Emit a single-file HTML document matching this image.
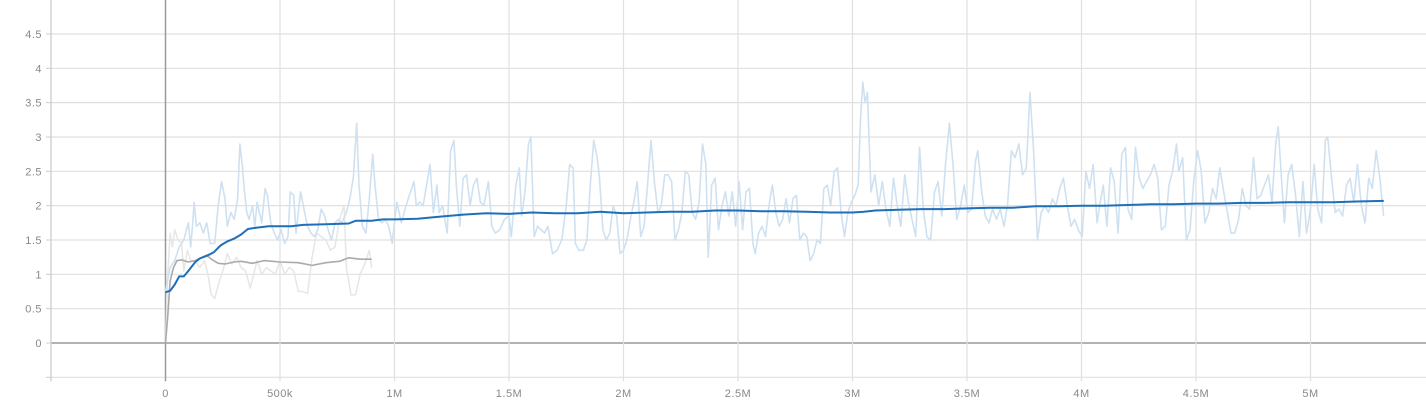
<!DOCTYPE html>
<html><head><meta charset="utf-8">
<style>
html,body{margin:0;padding:0;background:#fff;}
svg{display:block;font-family:"Liberation Sans",sans-serif;}
</style></head>
<body>
<svg id="chart" width="1426" height="400" viewBox="0 0 1426 400" xmlns="http://www.w3.org/2000/svg">
<g id="grid"></g>
<g id="axes"></g>
<g id="series"></g>
</svg>
<script>
const xTicks=[-500,0,500,1000,1500,2000,2500,3000,3500,4000,4500,5000];
const xTickLabels=["","0","500k","1M","1.5M","2M","2.5M","3M","3.5M","4M","4.5M","5M"];
const yTicks=[-0.5,0,0.5,1,1.5,2,2.5,3,3.5,4,4.5];
const yTickLabels=["","0","0.5","1","1.5","2","2.5","3","3.5","4","4.5"];

const rawSteps=[0,20,40,60,80,100,110,120,125,135,150,165,180,195,215,230,245,260,270,285,300,315,325,335,345,355,365,380,390,400,420,435,445,460,475,490,505,520,535,545,560,570,590,605,620,635,650,665,680,695,710,725,740,755,770,790,805,820,835,845,860,875,890,905,915,930,945,960,975,990,1010,1030,1050,1070,1085,1095,1110,1125,1140,1155,1170,1185,1195,1210,1230,1245,1260,1270,1285,1300,1315,1330,1345,1360,1375,1390,1410,1425,1440,1460,1480,1500,1510,1530,1545,1555,1570,1585,1595,1610,1625,1640,1655,1670,1690,1710,1730,1750,1765,1780,1790,1805,1825,1840,1855,1870,1885,1895,1910,1925,1940,1955,1970,1985,2000,2015,2030,2045,2060,2075,2090,2105,2120,2135,2150,2165,2180,2195,2210,2225,2240,2255,2270,2285,2300,2315,2330,2345,2360,2370,2385,2400,2415,2430,2445,2460,2475,2490,2505,2520,2535,2550,2565,2575,2590,2605,2620,2635,2650,2665,2680,2695,2710,2725,2740,2755,2770,2785,2800,2815,2830,2845,2860,2875,2890,2905,2920,2935,2950,2965,2980,2995,3010,3025,3035,3045,3055,3065,3081,3098,3114,3130,3146,3163,3179,3195,3211,3228,3244,3260,3276,3293,3309,3325,3341,3358,3374,3390,3406,3423,3439,3455,3472,3488,3504,3520,3537,3547,3564,3580,3596,3612,3629,3645,3661,3677,3694,3710,3726,3743,3759,3775,3791,3808,3824,3840,3856,3873,3889,3905,3921,3938,3954,3970,3986,4003,4019,4035,4051,4068,4079,4095,4111,4127,4143,4160,4176,4192,4203,4219,4236,4252,4268,4284,4301,4317,4333,4349,4366,4382,4398,4415,4425,4442,4458,4474,4490,4507,4523,4539,4556,4572,4588,4604,4621,4637,4653,4669,4686,4702,4718,4734,4751,4767,4783,4799,4816,4832,4848,4859,4875,4886,4902,4918,4935,4951,4967,4983,5000,5016,5032,5048,5065,5075,5092,5108,5124,5140,5157,5173,5189,5205,5222,5238,5254,5270,5287,5303,5319];
const rawValues=[0.75,1.1,1.2,1.4,1.5,1.75,1.4,1.8,2.05,1.7,1.75,1.6,1.75,1.45,1.45,2.0,2.35,2.1,1.7,1.9,1.8,2.1,2.9,2.6,2.2,1.9,1.8,2.0,1.7,2.05,1.75,2.25,2.15,1.75,1.6,1.5,1.65,1.45,1.55,2.2,2.15,1.6,2.2,1.95,1.7,1.6,1.55,1.65,1.95,1.85,1.65,1.5,1.75,1.8,1.75,1.9,2.1,2.4,3.2,2.3,1.7,1.6,2.1,2.75,2.3,1.8,1.75,1.8,1.7,1.45,2.05,1.75,2.0,2.2,2.35,2.0,2.05,2.0,2.3,2.6,1.9,2.3,1.9,2.0,1.6,2.8,2.95,2.3,1.7,2.4,2.45,2.0,2.3,2.4,2.05,2.0,2.35,1.7,1.6,1.65,1.8,1.85,1.55,2.3,2.55,1.85,2.2,2.9,3.0,1.55,1.7,1.65,1.6,1.7,1.3,1.35,1.5,2.0,2.6,2.55,1.45,1.35,1.35,1.5,2.3,2.95,2.7,2.4,1.65,1.5,1.6,2.0,1.85,1.3,1.35,1.5,1.8,2.05,2.35,1.55,1.7,2.3,2.95,2.35,1.9,2.0,2.45,2.45,2.35,1.5,1.65,1.9,2.5,2.45,1.9,1.8,2.05,2.9,2.6,1.25,2.3,2.4,1.65,2.0,2.2,1.85,2.2,1.7,2.35,1.65,2.2,2.25,1.45,1.3,1.6,1.7,1.55,2.0,2.3,1.9,1.7,1.8,2.1,1.75,2.1,2.15,1.5,1.6,1.55,1.2,1.3,1.5,1.45,2.25,2.3,2.0,2.5,2.55,1.9,1.55,1.9,2.05,2.15,2.3,3.25,3.8,3.5,3.65,2.2,2.45,2.0,2.35,1.95,1.7,2.4,2.0,1.7,2.45,2.05,1.8,1.55,2.85,1.95,1.55,1.5,2.2,2.35,1.85,2.6,3.2,2.6,1.8,2.0,2.3,1.9,1.95,2.65,2.8,2.2,1.85,1.75,1.95,1.8,1.95,1.7,2.0,2.8,2.7,2.9,2.45,2.55,3.65,2.8,1.5,1.9,2.0,1.9,2.1,2.0,2.25,2.4,2.0,1.7,1.8,1.65,1.55,2.5,2.25,2.6,1.75,2.0,2.3,1.7,2.55,2.35,1.6,2.75,2.85,1.95,1.8,2.85,2.4,2.25,2.35,2.45,2.6,2.4,1.65,1.7,2.3,2.5,2.9,2.5,2.7,1.5,1.65,2.35,2.8,2.5,1.75,1.9,2.25,2.1,2.55,2.2,1.9,1.6,1.6,1.8,2.25,2.0,1.95,2.7,2.1,2.15,2.3,2.45,2.05,2.9,3.15,2.3,1.75,2.45,2.6,2.15,1.55,2.35,1.6,1.95,2.6,1.95,1.75,2.95,3.0,2.4,1.9,1.95,1.85,2.3,2.4,2.05,2.6,2.0,1.75,2.4,2.25,2.8,2.4,1.85];

const smoothSteps=[0,20,40,60,80,100,130,150,180,210,240,270,300,330,360,400,450,500,550,600,700,800,830,900,950,1000,1100,1200,1300,1400,1500,1600,1700,1800,1900,2000,2100,2200,2300,2400,2500,2600,2700,2800,2900,3000,3050,3100,3200,3300,3400,3500,3600,3700,3800,3900,4000,4100,4200,4300,4400,4500,4600,4700,4800,4900,5000,5100,5200,5320];
const smoothValues=[0.74,0.76,0.85,0.97,0.97,1.05,1.18,1.23,1.27,1.32,1.42,1.48,1.52,1.58,1.66,1.68,1.70,1.70,1.70,1.72,1.73,1.74,1.78,1.78,1.80,1.80,1.81,1.84,1.87,1.89,1.88,1.90,1.89,1.89,1.91,1.89,1.90,1.91,1.91,1.93,1.93,1.92,1.92,1.91,1.90,1.90,1.91,1.93,1.94,1.95,1.95,1.96,1.97,1.97,1.99,1.99,2.00,2.00,2.01,2.02,2.02,2.03,2.03,2.04,2.04,2.05,2.05,2.05,2.06,2.07];

const greyRawSteps=[0,10,20,30,40,55,70,80,95,110,130,150,170,185,200,215,235,250,270,290,310,330,350,370,385,400,420,440,460,480,500,520,540,560,580,600,620,640,660,680,700,720,740,760,780,790,810,830,850,870,890,900];
const greyRawValues=[0,1.0,1.6,1.4,1.65,1.5,1.45,1.05,1.35,1.2,1.2,1.1,1.2,1.0,0.7,0.65,0.9,1.05,1.3,1.15,1.25,1.1,1.05,0.8,1.0,1.2,1.0,1.1,1.05,1.0,1.2,1.0,1.1,1.05,0.75,0.75,0.72,1.25,1.6,1.55,1.5,1.35,1.4,1.8,2.0,1.1,0.7,0.7,1.0,1.15,1.35,1.1];
const greySmoothSteps=[0,10,20,35,50,70,100,130,160,180,200,230,260,300,330,380,430,500,580,640,700,760,800,850,900];
const greySmoothValues=[0,0.4,0.9,1.1,1.2,1.21,1.18,1.2,1.25,1.28,1.22,1.16,1.15,1.18,1.19,1.16,1.2,1.18,1.17,1.13,1.17,1.19,1.24,1.22,1.22];

const X0=165.5, PXK=0.229, Y0=343, PYU=68.67;
function sx(k){return X0+k*PXK;}
function sy(v){return Y0-v*PYU;}
const NS="http://www.w3.org/2000/svg";
function mk(tag,attrs,parent){const e=document.createElementNS(NS,tag);for(const a in attrs)e.setAttribute(a,attrs[a]);parent.appendChild(e);return e;}
const grid=document.getElementById('grid'), axes=document.getElementById('axes'), series=document.getElementById('series');
const bottom=sy(-0.5);
yTicks.forEach((t,i)=>{
  const l=mk('line',{x1:51,x2:1426,y1:sy(t),y2:sy(t),stroke:t===0?'#999':'#e0e0e0','stroke-width':t===0?1.5:1.2},grid);
  
  
  const tk=mk('line',{x1:46,x2:51,y1:sy(t),y2:sy(t),stroke:'#ccc'},axes);
  
  
  if(yTickLabels[i]){
    const tx=mk('text',{x:42,y:sy(t)+4,'text-anchor':'end','font-size':11,fill:'#888','letter-spacing':'0.5'},axes);
    tx.textContent=yTickLabels[i];
    
    
  }
});
xTicks.forEach((t,i)=>{
  const l=mk('line',{x1:sx(t),x2:sx(t),y1:0,y2:bottom+4,stroke:t===0?'#999':'#e0e0e0','stroke-width':t===0?1.5:1.2},grid);
  
  
  if(xTickLabels[i]){
    const tx=mk('text',{x:sx(t),y:397,'text-anchor':'middle','font-size':11,fill:'#888','letter-spacing':'0.5'},axes);
    tx.textContent=xTickLabels[i];
    
    
  }
});
const leftAxis=mk('line',{x1:51,x2:51,y1:0,y2:bottom+4,stroke:'#ccc','stroke-width':1.2},axes);


function pts(s,v){return s.map((k,i)=>sx(k).toFixed(1)+','+sy(v[i]).toFixed(1)).join(' ');}
const g1=mk('polyline',{points:pts(greyRawSteps,greyRawValues),fill:'none',stroke:'#e6e6e6','stroke-width':1.5,'stroke-linejoin':'round'},series);


const r1=mk('polyline',{points:pts(rawSteps,rawValues),fill:'none',stroke:'#cfe1f1','stroke-width':1.6,'stroke-linejoin':'round'},series);


const g2=mk('polyline',{points:pts(greySmoothSteps,greySmoothValues),fill:'none',stroke:'#aaaaaa','stroke-width':1.6,'stroke-linejoin':'round'},series);


const s1=mk('polyline',{points:pts(smoothSteps,smoothValues),fill:'none',stroke:'#1f6fb8','stroke-width':2,'stroke-linejoin':'round'},series);


</script>
</body></html>
